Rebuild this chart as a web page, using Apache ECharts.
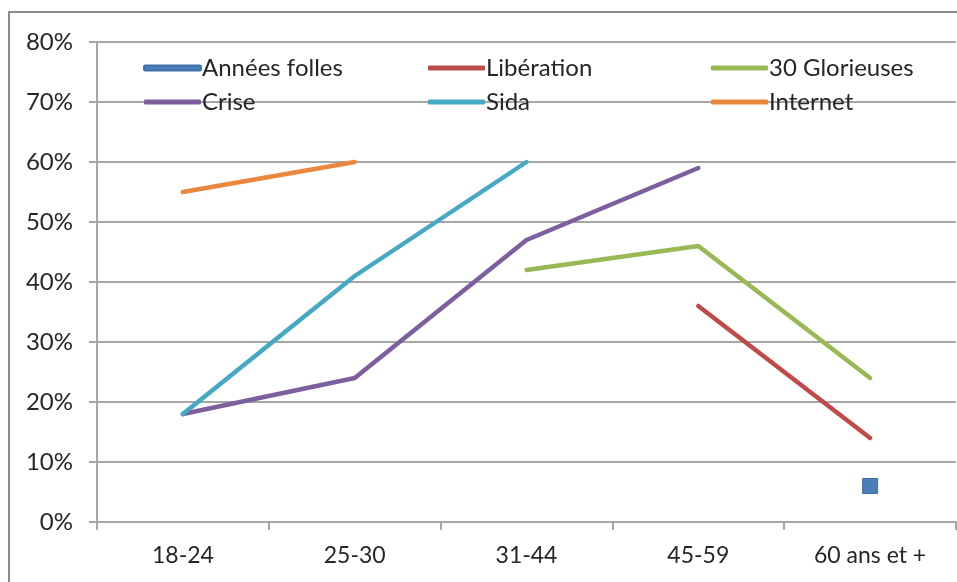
<!DOCTYPE html>
<html>
<head>
<meta charset="utf-8">
<script src="https://cdn.jsdelivr.net/npm/echarts@6/dist/echarts.min.js"></script>
<style>
  html, body { margin: 0; padding: 0; background: #fff; }
  #chart { width: 957px; height: 582px; }
</style>
</head>
<body>
<div id="chart"></div>
<script>
// Age groups along the x axis
const ageGroups = ['18-24', '25-30', '31-44', '45-59', '60 ans et +'];

// Share per age group for each generation (null = no value)
const anneesFolles = [null, null, null, null, 6];
const liberation   = [null, null, null, 36, 14];
const glorieuses   = [null, null, 42, 46, 24];
const crise        = [18, 24, 47, 59, null];
const sida         = [18, 41, 60, null, null];
const internet     = [55, 60, null, null, null];

const yTicks = { min: 0, max: 80, interval: 10 };

const FONT = 'Lato';
const TEXT = '#262626';
const GRID = '#a6a6a6';

function lineSeries(name, data, color, extra) {
  return Object.assign({
    name: name,
    type: 'line',
    data: data,
    showSymbol: false,
    symbol: 'none',
    connectNulls: false,
    animation: false,
    lineStyle: { color: color, width: 4.5, cap: 'round', join: 'round' },
    itemStyle: { color: color },
    emphasis: { disabled: true }
  }, extra || {});
}

function legendColumn(left, names) {
  return {
    data: names.map(n => ({ name: n, icon: 'roundRect' })),
    orient: 'vertical',
    left: left,
    top: 51,
    itemWidth: 57,
    itemHeight: 5,
    itemGap: 10,
    textStyle: {
      fontFamily: FONT, fontSize: 24, lineHeight: 24, color: TEXT,
      padding: [0, 0, 0, -4]
    },
    selectedMode: false
  };
}

const chart = echarts.init(document.getElementById('chart'), null, { renderer: 'canvas' });

chart.setOption({
  backgroundColor: '#ffffff',
  animation: false,
  graphic: [{
    type: 'rect',
    shape: { x: 9, y: 12, width: 960, height: 600 },
    style: { fill: 'none', stroke: '#8c8c8c', lineWidth: 2 },
    silent: true
  }],
  legend: [
    legendColumn(138, ['Années folles', 'Crise']),
    legendColumn(423, ['Libération', 'Sida']),
    legendColumn(706, ['30 Glorieuses', 'Internet'])
  ],
  grid: { left: 97, right: 1, top: 42, bottom: 60, containLabel: false },
  xAxis: {
    type: 'category',
    data: ageGroups,
    boundaryGap: true,
    axisLine: { show: true, lineStyle: { color: GRID, width: 2 } },
    axisTick: { show: true, length: 8, lineStyle: { color: GRID, width: 2 } },
    axisLabel: { fontFamily: FONT, fontSize: 23, color: TEXT, margin: 22 },
    splitLine: { show: false }
  },
  yAxis: {
    type: 'value',
    min: yTicks.min,
    max: yTicks.max,
    interval: yTicks.interval,
    axisLine: { show: true, lineStyle: { color: GRID, width: 2 } },
    axisTick: { show: true, length: 8, lineStyle: { color: GRID, width: 2 } },
    axisLabel: { fontFamily: FONT, fontSize: 24, color: TEXT, margin: 24, formatter: v => v + '%' },
    splitLine: { show: true, lineStyle: { color: GRID, width: 2 } }
  },
  series: [
    lineSeries('Années folles', anneesFolles, '#4a7ebb', {
      showSymbol: true, symbol: 'rect', symbolSize: 15,
      itemStyle: { color: '#4a7ebb', borderColor: '#3f70aa', borderWidth: 1 }
    }),
    lineSeries('Libération', liberation, '#be4b48'),
    lineSeries('30 Glorieuses', glorieuses, '#98b954'),
    lineSeries('Crise', crise, '#7d5fa0'),
    lineSeries('Sida', sida, '#46a9c4'),
    lineSeries('Internet', internet, '#e8873d')
  ]
});
</script>
</body>
</html>
